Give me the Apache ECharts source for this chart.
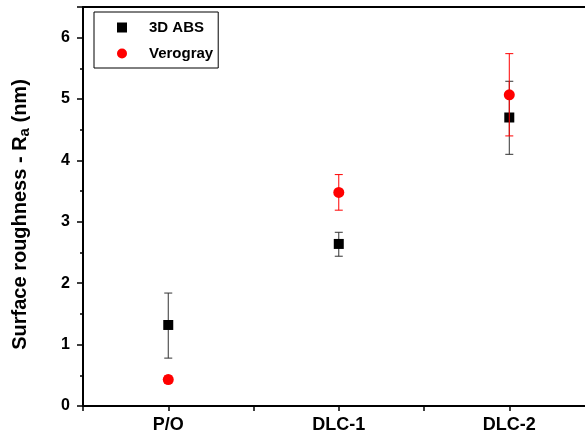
<!DOCTYPE html>
<html>
<head>
<meta charset="utf-8">
<script src="https://cdn.jsdelivr.net/npm/echarts@6/dist/echarts.min.js"></script>
<style>
  html, body { margin: 0; padding: 0; background: #fff; }
  #chart { width: 585px; height: 441px; }
</style>
</head>
<body>
<div id="chart"></div>
<script>
// categories on the x axis
const categories = ['P/O', 'DLC-1', 'DLC-2']
// 3D ABS: mean and error bar limits
const absMean = [1.32, 2.64, 4.70]
const absLow = [0.78, 2.44, 4.10]
const absHigh = [1.84, 2.83, 5.29]
// Verogray: mean and error bar limits
const veroMean = [0.43, 3.48, 5.07]
const veroLow = [0.37, 3.19, 4.40]
const veroHigh = [0.49, 3.77, 5.74]

const font = 'Liberation Sans, Arial, sans-serif'

function points(means) {
  return means.map((v, i) => [i, v])
}
function bars(low, high) {
  return low.map((v, i) => [i, v, high[i]])
}

// draws a vertical error bar with caps
function errorBar(color) {
  return function (params, api) {
    const top = api.coord([api.value(0), api.value(2)])
    const bot = api.coord([api.value(0), api.value(1)])
    const w = 4
    const style = { stroke: color, lineWidth: 1 }
    return {
      type: 'group',
      children: [
        { type: 'line', shape: { x1: top[0], y1: top[1], x2: bot[0], y2: bot[1] }, style: style },
        { type: 'line', shape: { x1: top[0] - w, y1: top[1], x2: top[0] + w, y2: top[1] }, style: style },
        { type: 'line', shape: { x1: bot[0] - w, y1: bot[1], x2: bot[0] + w, y2: bot[1] }, style: style }
      ]
    }
  }
}

// the plot runs past the right edge of the picture (cropped frame)
const xMin = -0.5
const xMax = 2.444

const chart = echarts.init(document.getElementById('chart'))
chart.setOption({
  animation: false,
  grid: { left: 83, right: 0, top: 7, bottom: 35 },
  legend: {
    orient: 'vertical',
    left: 94,
    top: 12,
    padding: [8, 5, 7, 23],
    itemGap: 11,
    itemWidth: 10,
    itemHeight: 10,
    borderColor: '#000',
    borderWidth: 1,
    borderRadius: 0,
    textStyle: { fontFamily: font, fontWeight: 'bold', fontSize: 15, color: '#000', padding: [0, 0, 0, 17] },
    data: [
      { name: '3D ABS', icon: 'rect' },
      { name: 'Verogray', icon: 'circle' }
    ]
  },
  xAxis: [{
    type: 'value',
    min: xMin,
    max: xMax,
    interval: 0.5,
    splitLine: { show: false },
    axisLine: { show: true, onZero: false, lineStyle: { color: '#000', width: 2 } },
    axisTick: { show: true, inside: false, length: 5, lineStyle: { color: '#000', width: 1.5 } },
    axisLabel: {
      margin: 10,
      showMaxLabel: false,
      fontFamily: font, fontWeight: 'bold', fontSize: 18, color: '#000',
      formatter: v => (Number.isInteger(v) && v >= 0 && v < categories.length) ? categories[v] : ''
    }
  }, {
    type: 'value',
    position: 'top',
    min: xMin,
    max: xMax,
    splitLine: { show: false },
    axisLine: { show: true, onZero: false, lineStyle: { color: '#000', width: 2 } },
    axisTick: { show: false },
    axisLabel: { show: false }
  }],
  yAxis: {
    type: 'value',
    min: 0,
    max: 6.5,
    interval: 1,
    splitLine: { show: false },
    axisLine: { show: true, onZero: false, lineStyle: { color: '#000', width: 2 } },
    axisTick: { show: true, inside: false, length: 6, lineStyle: { color: '#000', width: 1.5 } },
    minorTick: { show: true, splitNumber: 2, length: 3, lineStyle: { color: '#000', width: 1.5 } },
    axisLabel: {
      margin: 13,
      fontFamily: font, fontWeight: 'bold', fontSize: 16, color: '#000',
      formatter: v => Number.isInteger(v) ? String(v) : ''
    },
    name: 'Surface roughness - R{sub|a} (nm)',
    nameLocation: 'middle',
    nameGap: 51,
    nameTextStyle: {
      fontFamily: font, fontWeight: 'bold', fontSize: 20, color: '#000',
      padding: [0, 16, 0, 0],
      rich: {
        sub: { fontFamily: font, fontWeight: 'bold', fontSize: 15, color: '#000', verticalAlign: 'bottom', padding: [9, 0, 0, 0] }
      }
    }
  },
  series: [
    {
      name: '3D ABS err',
      type: 'custom',
      renderItem: errorBar('#333'),
      data: bars(absLow, absHigh),
      z: 2
    },
    {
      name: '3D ABS',
      type: 'scatter',
      symbol: 'rect',
      symbolSize: 10,
      itemStyle: { color: '#000', opacity: 1 },
      data: points(absMean),
      z: 3
    },
    {
      name: 'Verogray err',
      type: 'custom',
      renderItem: errorBar('#ff0000'),
      data: bars(veroLow, veroHigh),
      z: 4
    },
    {
      name: 'Verogray',
      type: 'scatter',
      symbol: 'circle',
      symbolSize: 11,
      itemStyle: { color: '#ff0000', opacity: 1 },
      data: points(veroMean),
      z: 5
    }
  ]
})
</script>
</body>
</html>
